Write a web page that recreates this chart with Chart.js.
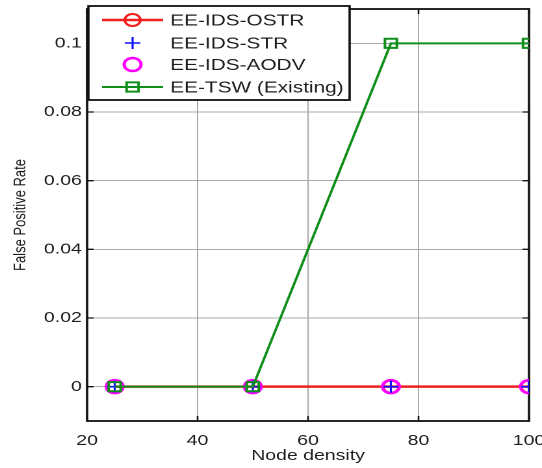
<!DOCTYPE html>
<html><head><meta charset="utf-8">
<script src="https://cdn.jsdelivr.net/npm/chart.js@4"></script>
<style>html,body{margin:0;padding:0;background:#fff;overflow:hidden}
#c{display:block}</style>
</head><body>
<canvas id="c" width="417" height="468" style="width:542px;height:468px"></canvas>
<script>
const nodeDensity = [25, 50, 75, 100];
const fprOSTR = [0, 0, 0, 0];
const fprSTR = [0, 0, 0, 0];
const fprAODV = [0, 0, 0, 0];
const fprTSW = [0, 0, 0.1, 0.1];
const seriesLabels = ['EE-IDS-OSTR', 'EE-IDS-STR', 'EE-IDS-AODV', 'EE-TSW (Existing)'];
const xTicks = [20, 40, 60, 80, 100];
const yTicks = [0, 0.02, 0.04, 0.06, 0.08, 0.1];
const yTickLabels = ['0', '0.02', '0.04', '0.06', '0.08', '0.1'];
const xTitle = 'Node density';
const yTitle = 'False Positive Rate';

const pts = ys => nodeDensity.map((x, i) => ({x: x, y: ys[i]}));
const FONT = '"Liberation Sans", Arial, sans-serif';
const TXT = '#1e1e1e';

const datasets = [
  {label: seriesLabels[0], data: pts(fprOSTR), borderColor: '#f01e1e', borderWidth: 2.5,
   pointStyle: 'circle', pointRadius: 6, pointBorderColor: '#f01e1e', pointBorderWidth: 2,
   pointBackgroundColor: 'rgba(0,0,0,0)', order: 3},
  {label: seriesLabels[1], data: pts(fprSTR), showLine: false, borderColor: '#1010ff',
   pointStyle: 'cross', pointRadius: 6, pointBorderColor: '#1010ff', pointBorderWidth: 1.6,
   pointBackgroundColor: 'rgba(0,0,0,0)', order: 1},
  {label: seriesLabels[2], data: pts(fprAODV), showLine: false, borderColor: '#ff00ff',
   pointStyle: 'circle', pointRadius: 6.5, pointBorderColor: '#ff00ff', pointBorderWidth: 2.5,
   pointBackgroundColor: 'rgba(0,0,0,0)', order: 2},
  {label: seriesLabels[3], data: pts(fprTSW), borderColor: '#0f8f1a', borderWidth: 2,
   pointStyle: 'rect', pointRadius: 6.5, pointBorderColor: '#0f8f1a', pointBorderWidth: 2,
   pointBackgroundColor: 'rgba(0,0,0,0)', order: 0}
];

const framePlugin = {
  id: 'frame',
  beforeDatasetsDraw(chart) {
    const {ctx, chartArea: a, scales: {x, y}} = chart;
    ctx.save();
    ctx.strokeStyle = '#111';
    ctx.lineWidth = 1.3;
    const t = 5;
    ctx.beginPath();
    xTicks.forEach(v => {
      const px = x.getPixelForValue(v);
      ctx.moveTo(px, a.bottom); ctx.lineTo(px, a.bottom - t);
      ctx.moveTo(px, a.top); ctx.lineTo(px, a.top + t);
    });
    yTicks.forEach(v => {
      const py = y.getPixelForValue(v);
      ctx.moveTo(a.left, py); ctx.lineTo(a.left + t, py);
      ctx.moveTo(a.right, py); ctx.lineTo(a.right - t, py);
    });
    ctx.stroke();
    ctx.lineWidth = 1.8;
    ctx.strokeRect(a.left, a.top, a.right - a.left, a.bottom - a.top);
    ctx.restore();
  }
};

const legendPlugin = {
  id: 'boxLegend',
  afterDraw(chart) {
    const ctx = chart.ctx;
    const box = {l: 68, t: 6, r: 269, b: 100};
    const rows = [20, 43, 64.5, 87];
    ctx.save();
    ctx.fillStyle = '#fff';
    ctx.fillRect(box.l, box.t, box.r - box.l, box.b - box.t);
    ctx.strokeStyle = '#111';
    ctx.lineWidth = 1.8;
    ctx.strokeRect(box.l, box.t, box.r - box.l, box.b - box.t);
    chart.data.datasets.forEach((ds, i) => {
      const yy = rows[i];
      if (ds.showLine !== false) {
        ctx.beginPath();
        ctx.strokeStyle = ds.borderColor;
        ctx.lineWidth = ds.borderWidth;
        ctx.moveTo(78.5, yy); ctx.lineTo(125.5, yy);
        ctx.stroke();
      }
      ctx.strokeStyle = ds.pointBorderColor;
      ctx.fillStyle = 'rgba(0,0,0,0)';
      ctx.lineWidth = ds.pointBorderWidth;
      Chart.helpers.drawPoint(ctx, {pointStyle: ds.pointStyle, radius: ds.pointRadius,
        borderWidth: ds.pointBorderWidth, rotation: 0}, 102, yy);
      ctx.fillStyle = TXT;
      ctx.font = '16px ' + FONT;
      ctx.textBaseline = 'middle';
      ctx.textAlign = 'left';
      ctx.fillText(ds.label, 131, yy + 1);
    });
    ctx.restore();
  }
};

new Chart(document.getElementById('c'), {
  type: 'line',
  data: {datasets: datasets},
  plugins: [framePlugin, legendPlugin],
  options: {
    responsive: false,
    animation: false,
    devicePixelRatio: 2,
    layout: {padding: {left: 0, right: 10, top: 7, bottom: 0}},
    plugins: {legend: {display: false}, tooltip: {enabled: false}},
    elements: {line: {tension: 0}},
    scales: {
      x: {
        type: 'linear', min: 20, max: 100,
        afterBuildTicks: s => { s.ticks = xTicks.map(v => ({value: v})); },
        afterFit: s => { s.height = 47; s.paddingLeft = 0; s.paddingRight = 0; },
        grid: {color: '#a8a8a8', lineWidth: 1, drawTicks: false},
        border: {display: false},
        ticks: {color: TXT, font: {family: FONT, size: 15}, padding: 11, maxRotation: 0,
                callback: v => String(v)},
        title: {display: true, text: xTitle, color: TXT, font: {family: FONT, size: 15},
                padding: {top: 0, bottom: 3}}
      },
      y: {
        type: 'linear', min: -0.01, max: 0.11,
        afterBuildTicks: s => { s.ticks = yTicks.map(v => ({value: v})); },
        afterFit: s => { s.width = 67; s.paddingTop = 0; s.paddingBottom = 0; },
        grid: {color: '#a8a8a8', lineWidth: 1, drawTicks: false},
        border: {display: false},
        ticks: {color: TXT, font: {family: FONT, size: 15}, padding: 4,
                callback: (v, i) => yTickLabels[i]},
        title: {display: true, text: yTitle, color: TXT, font: {family: FONT, size: 13},
                padding: {top: 8, bottom: 0}}
      }
    }
  }
});
</script>
</body></html>
